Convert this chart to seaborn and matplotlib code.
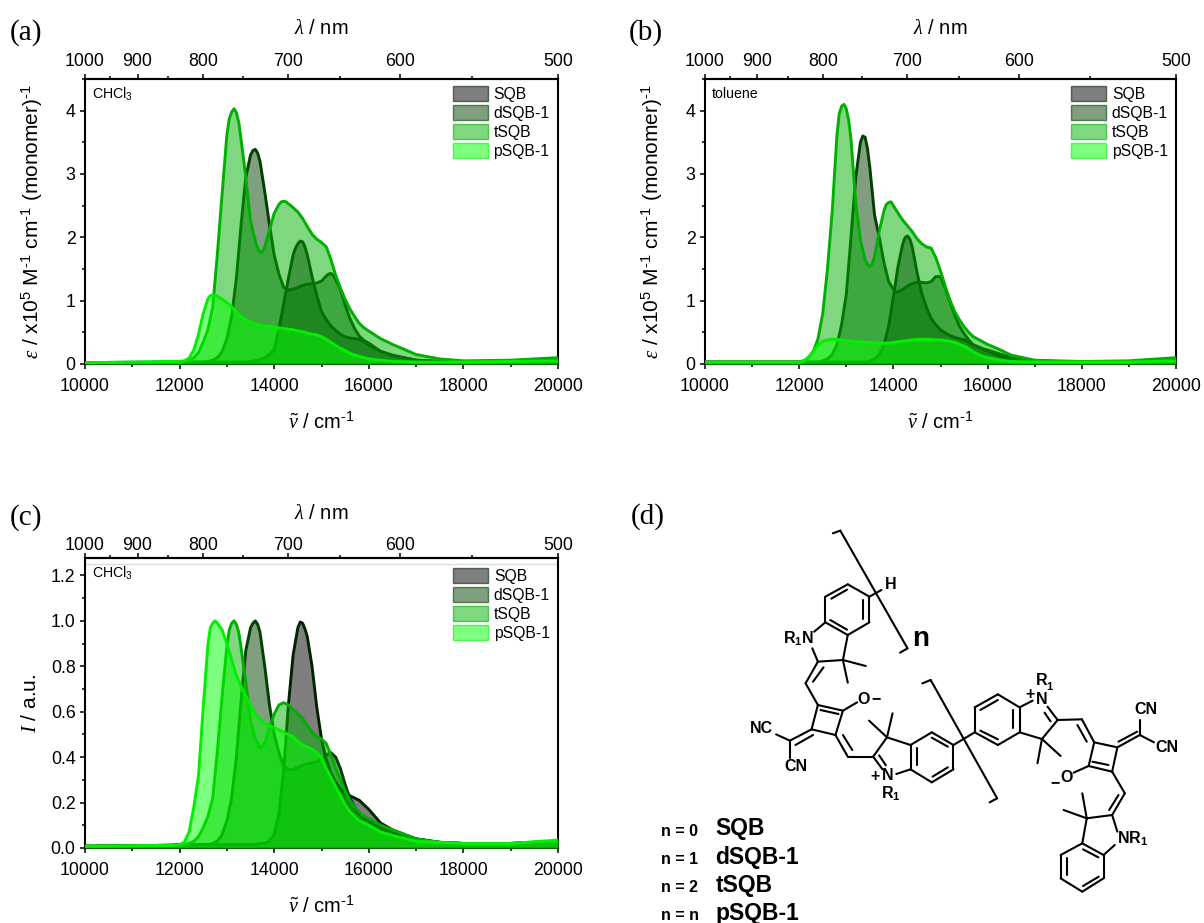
"""
Espectros de absorcion y emision de escuaraínas (SQB) con estructura molecular
"""
import matplotlib
matplotlib.use("Agg")
import matplotlib.pyplot as plt
import seaborn as sns
from matplotlib.collections import LineCollection
from matplotlib.colors import to_rgba
from matplotlib.patches import Patch
from matplotlib.ticker import FixedLocator, MultipleLocator, NullFormatter

FIG_W, FIG_H = 1204, 923

# Rejilla de lectura en cm-1
WAVENUMBER = ([10000, 11000, 11800] + list(range(12000, 16001, 100))
              + [16250, 16500, 17000, 17500, 18000, 19000, 20000])

NAMES = ["SQB", "dSQB-1", "tSQB", "pSQB-1"]
FILL_COLORS = ["#000000", "#004000", "#00B000", "#00FF00"]
LINE_COLORS = ["#002400", "#004000", "#00B000", "#00F000"]

WL_MAJOR = [1000, 900, 800, 700, 600, 500]
WL_MINOR = [950, 850, 750, 650, 550]

# (a) absorcion en CHCl3
SQB_A = [.02, .02, .03,
         .03, .03, .03, .03, .03, .03, .03, .03, .03, .03,
         .03, .03, .03, .03, .03, .04, .05, .07, .10, .15,
         .22, .55, .95, 1.35, 1.72, 1.90, 1.93, 1.72, 1.38, 1.08,
         .83, .70, .60, .53, .47, .43, .41, .40, .39, .35,
         .30,
         .20, .14, .06, .04, .03, .03, .04]
DSQB_A = [.02, .02, .03,
          .03, .03, .03, .03, .03, .03, .04, .06, .10, .20,
          .40, .75, 1.35, 2.20, 2.95, 3.30, 3.39, 3.20, 2.72, 2.20,
          1.72, 1.42, 1.21, 1.17, 1.18, 1.21, 1.24, 1.26, 1.27, 1.28,
          1.31, 1.39, 1.43, 1.33, 1.18, .93, .72, .56, .44, .37,
          .33,
          .20, .13, .06, .04, .03, .04, .07]
TSQB_A = [.02, .03, .03,
          .03, .04, .06, .10, .18, .35, .55, .90, 1.75, 2.70,
          3.62, 3.98, 3.97, 3.54, 2.95, 2.25, 1.95, 1.76, 1.85, 2.12,
          2.38, 2.52, 2.57, 2.53, 2.47, 2.40, 2.30, 2.17, 2.05, 1.97,
          1.92, 1.85, 1.65, 1.40, 1.20, 1.02, .87, .75, .64, .57,
          .52,
          .40, .31, .15, .08, .05, .06, .10]
PSQB_A = [.02, .03, .04,
          .04, .05, .09, .22, .47, .80, 1.03, 1.09, 1.07, 1.02,
          .97, .90, .82, .75, .70, .66, .63, .61, .60, .59,
          .58, .57, .56, .55, .54, .52, .51, .49, .47, .46,
          .43, .39, .34, .29, .25, .21, .17, .14, .12, .10,
          .08,
          .06, .04, .03, .03, .03, .04, .05]

# (b) absorcion en tolueno
SQB_B = [.03, .03, .03,
         .03, .03, .03, .03, .03, .03, .03, .03, .03, .03,
         .03, .03, .03, .03, .03, .04, .08, .15, .30, .60,
         1.06, 1.55, 1.90, 2.02, 1.85, 1.45, 1.12, .90, .72, .62,
         .54, .49, .45, .42, .40, .38, .34, .30, .27, .23,
         .20,
         .13, .08, .03, .03, .03, .03, .04]
DSQB_B = [.03, .03, .03,
          .03, .03, .03, .03, .03, .05, .08, .15, .30, .62,
          1.10, 2.00, 2.95, 3.50, 3.58, 3.10, 2.35, 2.00, 1.60, 1.30,
          1.18, 1.14, 1.18, 1.23, 1.27, 1.29, 1.29, 1.28, 1.30, 1.38,
          1.38, 1.20, .98, .78, .60, .48, .38, .30, .27, .24,
          .22,
          .16, .10, .05, .04, .03, .04, .07]
TSQB_B = [.03, .03, .03,
          .03, .05, .10, .20, .40, .80, 1.50, 2.40, 3.60, 4.07,
          4.03, 3.55, 2.55, 1.95, 1.65, 1.54, 1.70, 2.10, 2.42, 2.55,
          2.50, 2.38, 2.27, 2.18, 2.09, 1.98, 1.90, 1.85, 1.83, 1.68,
          1.47, 1.23, 1.01, .83, .70, .59, .50, .43, .39, .35,
          .31,
          .23, .14, .06, .05, .04, .05, .10]
PSQB_B = [.03, .03, .03,
          .03, .05, .11, .20, .30, .36, .38, .39, .39, .38,
          .37, .36, .35, .35, .34, .34, .33, .33, .33, .33,
          .34, .35, .36, .37, .38, .39, .39, .39, .39, .38,
          .38, .37, .36, .34, .31, .28, .24, .19, .15, .12,
          .10,
          .06, .04, .03, .03, .03, .03, .05]

# (c) emision normalizada en CHCl3
SQB_C = [.008, .010, .012,
         .015, .015, .015, .015, .015, .015, .015, .015, .015, .015,
         .015, .015, .015, .015, .015, .015, .015, .02, .02, .03,
         .06, .15, .34, .63, .85, .97, .99, .93, .80, .62,
         .48, .39, .33, .29, .26, .24, .23, .22, .21, .19,
         .17,
         .11, .08, .04, .025, .02, .02, .03]
DSQB_C = [.008, .010, .012,
          .015, .015, .015, .015, .015, .015, .015, .02, .03, .06,
          .12, .22, .40, .65, .87, .97, 1.00, .95, .80, .63,
          .50, .42, .36, .345, .345, .355, .365, .37, .375, .38,
          .39, .41, .42, .40, .35, .28, .22, .18, .15, .13,
          .12,
          .09, .07, .04, .025, .02, .02, .03]
TSQB_C = [.008, .010, .012,
          .012, .015, .02, .03, .05, .09, .14, .22, .43, .67,
          .89, .99, .985, .88, .73, .56, .48, .44, .46, .53,
          .59, .63, .64, .63, .61, .59, .57, .54, .51, .49,
          .48, .46, .41, .35, .30, .25, .21, .18, .16, .14,
          .13,
          .10, .08, .04, .025, .02, .02, .03]
PSQB_C = [.008, .010, .012,
          .015, .025, .07, .18, .32, .62, .90, .99, .99, .96,
          .90, .83, .76, .71, .67, .63, .59, .57, .55, .54,
          .53, .52, .51, .50, .49, .47, .455, .445, .435, .42,
          .40, .35, .31, .27, .23, .19, .16, .14, .12, .11,
          .10,
          .07, .055, .03, .025, .02, .02, .035]

# Lecturas adicionales alrededor de maximos y minimos (cm-1, valor)
SQB_A_EXTRA = [(14450, 1.83), (14550, 1.94), (14650, 1.85)]
DSQB_A_EXTRA = [(13550, 3.37), (13650, 3.33), (15150, 1.42), (15250, 1.40)]
TSQB_A_EXTRA = [(13050, 3.87), (13150, 4.03), (13250, 3.82), (13650, 1.83), (13750, 1.77),
                (14150, 2.56), (14250, 2.56)]
PSQB_A_EXTRA = [(12650, 1.08), (12750, 1.09)]

SQB_B_EXTRA = [(14250, 2.00), (14350, 1.97)]
DSQB_B_EXTRA = [(13350, 3.60), (13450, 3.40), (14050, 1.14)]
TSQB_B_EXTRA = [(12850, 3.95), (12950, 4.10), (13050, 3.85), (13450, 1.57), (13550, 1.58),
                (13850, 2.52), (13950, 2.56)]
PSQB_B_EXTRA = []

SQB_C_EXTRA = [(14550, .995), (14650, .965)]
DSQB_C_EXTRA = [(13550, .99), (13650, .985)]
TSQB_C_EXTRA = [(13050, .96), (13150, 1.00), (13250, .95)]
PSQB_C_EXTRA = [(12650, .97), (12750, 1.00)]

# Estructura (d): coordenadas de enlaces en el sistema del panel, 1564 x 1299
BONDS = [
    # indol superior
    ((550, 320), (610, 283)), ((610, 283), (668, 320)), ((668, 320), (668, 397)),
    ((668, 397), (610, 435)), ((610, 435), (550, 397)), ((550, 397), (550, 320)),
    ((566, 326), (608, 299)), ((652, 330), (652, 386)), ((608, 419), (563, 390)),
    ((550, 397), (520, 425)), ((610, 435), (597, 510)), ((597, 510), (530, 515)),
    ((530, 515), (515, 475)), ((597, 510), (658, 528)), ((597, 510), (610, 578)),
    ((530, 515), (497, 580)), ((545, 532), (517, 575)), ((668, 320), (700, 300)),
    # corchete n
    ((570, 130), (590, 122)), ((590, 122), (770, 475)), ((770, 475), (750, 488)),
    # anillo central izquierdo
    ((497, 580), (530, 645)), ((530, 645), (597, 662)), ((597, 662), (577, 735)),
    ((577, 735), (513, 718)), ((513, 718), (530, 645)), ((537, 660), (585, 672)),
    ((597, 662), (635, 637)), ((513, 718), (455, 752)), ((517, 735), (470, 765)),
    ((455, 752), (418, 733)), ((455, 752), (455, 805)),
    ((577, 735), (610, 800)), ((597, 735), (622, 780)), ((610, 800), (678, 800)),
    # indol central izquierdo
    ((678, 800), (715, 742)), ((715, 742), (778, 765)), ((678, 800), (703, 838)),
    ((694, 796), (712, 826)), ((778, 838), (740, 852)),
    ((715, 742), (667, 692)), ((715, 742), (730, 670)),
    ((778, 765), (835, 727)), ((835, 727), (893, 765)), ((893, 765), (893, 838)),
    ((893, 838), (835, 877)), ((835, 877), (778, 838)), ((778, 838), (778, 765)),
    ((795, 775), (795, 825)), ((835, 743), (878, 770)), ((878, 832), (837, 860)),
    ((893, 765), (950, 727)),
    # segundo corchete
    ((810, 580), (832, 570)), ((832, 570), (1010, 925)), ((1010, 925), (990, 937)),
    # indol central derecho
    ((950, 652), (1012, 613)), ((1012, 613), (1070, 652)), ((1070, 652), (1070, 727)),
    ((1070, 727), (1012, 765)), ((1012, 765), (950, 727)), ((950, 727), (950, 652)),
    ((965, 660), (1012, 630)), ((1053, 660), (1053, 714)), ((1012, 748), (965, 722)),
    ((1070, 652), (1105, 632)), ((1145, 650), (1172, 690)), ((1137, 668), (1153, 694)),
    ((1172, 690), (1130, 747)), ((1130, 747), (1070, 727)),
    ((1130, 747), (1118, 820)), ((1130, 747), (1180, 798)), ((1172, 690), (1237, 688)),
    ((1237, 688), (1270, 757)), ((1225, 705), (1250, 755)),
    # anillo central derecho
    ((1270, 757), (1332, 772)), ((1332, 772), (1318, 845)), ((1318, 845), (1255, 828)),
    ((1255, 828), (1270, 757)), ((1265, 815), (1308, 825)),
    ((1332, 772), (1392, 735)), ((1335, 755), (1385, 725)),
    ((1392, 735), (1392, 690)), ((1392, 735), (1430, 757)),
    ((1255, 828), (1215, 848)), ((1318, 845), (1352, 910)),
    ((1352, 910), (1318, 975)), ((1335, 915), (1310, 960)),
    # indol inferior
    ((1318, 975), (1250, 985)), ((1318, 975), (1332, 1025)), ((1250, 985), (1238, 910)),
    ((1250, 985), (1188, 960)), ((1250, 985), (1238, 1060)), ((1295, 1095), (1325, 1065)),
    ((1238, 1060), (1295, 1095)), ((1295, 1095), (1295, 1165)), ((1295, 1165), (1238, 1205)),
    ((1238, 1205), (1180, 1165)), ((1180, 1165), (1180, 1095)), ((1180, 1095), (1238, 1060)),
    ((1196, 1105), (1196, 1155)), ((1240, 1188), (1282, 1160)), ((1240, 1078), (1281, 1102)),
]

ATOM_LABELS = [
    ("H", 725, 283), (r"$\mathbf{R_1N}$", 477, 447), ("O", 652, 627), ("\u2212", 686, 626),
    ("NC", 380, 716), ("CN", 472, 829), ("+", 684, 860), ("N", 718, 857),
    (r"$\mathbf{R_1}$", 725, 910), ("R", 1130, 572), ("+", 1099, 613), ("N", 1128, 630),
    ("CN", 1408, 660), ("CN", 1466, 772), ("O", 1195, 862), ("\u2212", 1165, 878),
    (r"$\mathbf{NR_1}$", 1372, 1046),
]

# Etiquetas n = ... y nombres
N_LABELS = ["n = 0", "n = 1", "n = 2", "n = n"]
N_ROWS = [1026, 1110, 1193, 1277]
N_NAMES = ["SQB", "dSQB-1", "tSQB", "pSQB-1"]
N_NAME_ROWS = [1016, 1102, 1186, 1270]

sns.set_theme(style="ticks")
plt.rcParams["font.family"] = ["Liberation Sans"]
plt.rcParams["mathtext.fontset"] = "custom"
plt.rcParams["mathtext.rm"] = "Liberation Sans"
plt.rcParams["mathtext.it"] = "Liberation Serif:italic"
plt.rcParams["mathtext.bf"] = "Liberation Sans:bold"
plt.rcParams["mathtext.default"] = "regular"

EPS_LABEL = (r"$\mathit{\varepsilon}$ / x10$^5$ M$^{\text{-}1}$ cm$^{\text{-}1}$ "
             r"(monomer)$^{\text{-}1}$")


def axes_px(fig, left, top, right, bottom):
    """Crear ejes a partir de bordes en pixeles de la figura"""
    return fig.add_axes([left / FIG_W, 1 - bottom / FIG_H,
                         (right - left) / FIG_W, (bottom - top) / FIG_H])


def wl_convert(value):
    return 1e7 / value


def merge_points(values, extra):
    points = sorted(list(zip(WAVENUMBER, values)) + extra)
    return [p[0] for p in points], [p[1] for p in points]


def draw_panel(ax, series, extras, ymax, ylabel, solvent, legend_pos, label_x, top_pad):
    for i, values in enumerate(series):
        xs, ys = merge_points(values, extras[i])
        ax.fill_between(xs, 0, ys, color=FILL_COLORS[i], alpha=0.5,
                        linewidth=0, zorder=2 + i)
        sns.lineplot(x=xs, y=ys, color=LINE_COLORS[i], linewidth=2.1,
                     ax=ax, zorder=2 + i, errorbar=None)

    ax.set_xlim(10000, 20000)
    ax.set_ylim(0, ymax)
    ax.xaxis.set_major_locator(MultipleLocator(2000))
    ax.xaxis.set_minor_locator(MultipleLocator(1000))
    ax.tick_params(axis="both", which="major", length=3.8, width=1.1, labelsize=12.8,
                   color="black", labelcolor="black")
    ax.tick_params(axis="x", which="major", pad=6)
    ax.tick_params(axis="y", which="major", pad=3)
    ax.tick_params(axis="both", which="minor", length=2.2, width=1.1, color="black")
    for side in ax.spines:
        ax.spines[side].set_linewidth(1.5)
        ax.spines[side].set_color("black")

    ax.set_xlabel(r"$\mathit{\tilde{\nu}}$ / cm$^{\text{-}1}$", fontsize=14.5, labelpad=12,
                  color="black")
    ax.set_ylabel(ylabel, fontsize=15, color="black")
    ax.yaxis.set_label_coords(label_x, 0.5)

    # Eje superior en longitud de onda
    top = ax.secondary_xaxis("top", functions=(wl_convert, wl_convert))
    top.xaxis.set_major_locator(FixedLocator(WL_MAJOR))
    top.xaxis.set_minor_locator(FixedLocator(WL_MINOR))
    top.xaxis.set_minor_formatter(NullFormatter())
    top.tick_params(axis="x", which="major", length=3.8, width=1.1, labelsize=12.8, pad=top_pad,
                    color="black", labelcolor="black")
    top.tick_params(axis="x", which="minor", length=2.2, width=1.1, color="black")
    top.spines["top"].set_linewidth(1.5)
    top.set_xlabel(r"$\mathit{\lambda}$ / nm", fontsize=14.5, labelpad=13, color="black")

    ax.text(7 / 473, 1 - 15 / ax.bbox.height, solvent, transform=ax.transAxes,
            fontsize=10.2, va="center", ha="left", color="black")

    handles = [Patch(facecolor=to_rgba(FILL_COLORS[i], 0.5),
                     edgecolor=to_rgba(LINE_COLORS[i], 0.6), linewidth=1, label=NAMES[i])
               for i in range(4)]
    ax.legend(handles=handles, loc="upper left", bbox_to_anchor=legend_pos, frameon=False,
              fontsize=11.3, handlelength=2.25, handleheight=1.08, labelspacing=0.21,
              handletextpad=0.35, borderpad=0, borderaxespad=0, labelcolor="black")


fig = plt.figure(figsize=(FIG_W / 100, FIG_H / 100), dpi=100)

ax_a = axes_px(fig, 85, 79, 558, 364)
draw_panel(ax_a, [SQB_A, DSQB_A, TSQB_A, PSQB_A],
           [SQB_A_EXTRA, DSQB_A_EXTRA, TSQB_A_EXTRA, PSQB_A_EXTRA], 4.5,
           EPS_LABEL, r"CHCl$_3$", (0.777, 0.975), -0.085, 3)
ax_a.yaxis.set_minor_locator(MultipleLocator(0.5))
ax_a.set_yticks([0, 1, 2, 3, 4])

ax_b = axes_px(fig, 705, 79, 1176, 364)
draw_panel(ax_b, [SQB_B, DSQB_B, TSQB_B, PSQB_B],
           [SQB_B_EXTRA, DSQB_B_EXTRA, TSQB_B_EXTRA, PSQB_B_EXTRA], 4.5,
           EPS_LABEL, "toluene", (0.777, 0.975), -0.085, 3)
ax_b.yaxis.set_minor_locator(MultipleLocator(0.5))
ax_b.set_yticks([0, 1, 2, 3, 4])

# En (c) el eje superior queda separado del marco del grafico
ax_c = axes_px(fig, 85, 558, 558, 848)
draw_panel(ax_c, [SQB_C, DSQB_C, TSQB_C, PSQB_C],
           [SQB_C_EXTRA, DSQB_C_EXTRA, TSQB_C_EXTRA, PSQB_C_EXTRA], 1.277,
           r"$\mathit{I}$ / a.u.", r"CHCl$_3$", (0.778, 0.966), -0.095, -1)
ax_c.axhline(1.25, color="#dcdcdc", linewidth=1, zorder=1)
ax_c.yaxis.set_minor_locator(MultipleLocator(0.1))
ax_c.set_yticks([0, 0.2, 0.4, 0.6, 0.8, 1.0, 1.2])
ax_c.set_yticklabels(["0.0", "0.2", "0.4", "0.6", "0.8", "1.0", "1.2"])

for tag, px, py in [("(a)", 10, 33), ("(b)", 629, 33), ("(c)", 10, 518), ("(d)", 631, 517)]:
    fig.text(px / FIG_W, 1 - py / FIG_H, tag, family="Liberation Serif", fontsize=21,
             va="center", ha="left", color="black")

# Estructura molecular
ax_d = axes_px(fig, 620, 490, 1204, 923)
ax_d.set_xlim(0, 1564)
ax_d.set_ylim(1299, 0)
ax_d.axis("off")
ax_d.add_collection(LineCollection(BONDS, colors="black", linewidths=1.5, capstyle="round"))
ax_d.text(805, 448, "n", fontsize=20, fontweight="bold", ha="center", va="center", color="black")
for text, px, py in ATOM_LABELS:
    ax_d.text(px, py, text, fontsize=11.5, fontweight="bold", ha="center", va="center", color="black")
ax_d.text(1150, 590, "1", fontsize=8, fontweight="bold", ha="center", va="center", color="black")
for text, row in zip(N_LABELS, N_ROWS):
    ax_d.text(110, row, text, fontsize=11.5, fontweight="bold", ha="left", va="center", color="black")
for text, row in zip(N_NAMES, N_NAME_ROWS):
    ax_d.text(256, row, text, fontsize=16.5, fontweight="bold", ha="left", va="center", color="black")

fig.savefig("out.png", dpi=100)
